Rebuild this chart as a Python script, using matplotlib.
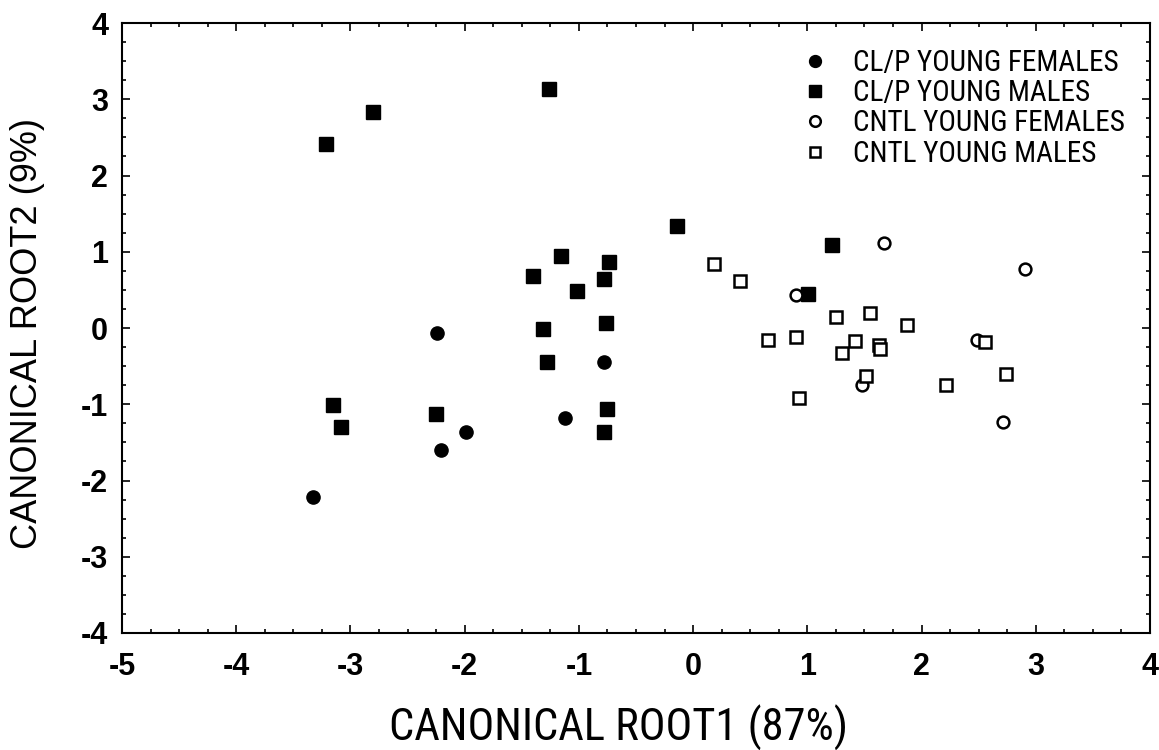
import matplotlib
matplotlib.use("Agg")
import matplotlib.pyplot as plt
from matplotlib.ticker import MultipleLocator

plt.rcParams['axes.unicode_minus'] = False

# CL/P young females (filled circles)
clp_f_x = [-3.33, -2.24, -2.21, -1.99, -1.12, -0.78]
clp_f_y = [-2.21, -0.06, -1.60, -1.37, -1.18, -0.44]

# CL/P young males (filled squares)
clp_m_x = [-3.21, -2.80, -1.26, -0.14, -1.16, -0.74, -1.40, -0.78, -1.02,
           1.22, 1.01, -1.31, -0.76, -1.28, -0.75, -0.78, -2.25, -3.15, -3.08]
clp_m_y = [2.41, 2.83, 3.14, 1.34, 0.94, 0.87, 0.68, 0.64, 0.49,
           1.09, 0.45, -0.01, 0.06, -0.45, -1.06, -1.37, -1.13, -1.01, -1.30]

# CNTL young females (open circles)
cntl_f_x = [1.67, 2.91, 0.90, 2.49, 1.48, 2.71]
cntl_f_y = [1.11, 0.77, 0.43, -0.16, -0.75, -1.23]

# CNTL young males (open squares)
cntl_m_x = [0.18, 0.41, 1.25, 1.55, 1.87, 0.66, 0.90, 1.42, 1.30, 1.63,
            1.64, 2.56, 1.51, 2.21, 2.74, 0.93]
cntl_m_y = [0.84, 0.62, 0.14, 0.20, 0.04, -0.16, -0.12, -0.17, -0.33, -0.22,
            -0.27, -0.19, -0.63, -0.75, -0.60, -0.92]

labels = ["CL/P YOUNG FEMALES", "CL/P YOUNG MALES",
          "CNTL YOUNG FEMALES", "CNTL YOUNG MALES"]
xticks = [-5, -4, -3, -2, -1, 0, 1, 2, 3, 4]
yticks = [-4, -3, -2, -1, 0, 1, 2, 3, 4]

narrow = ["Roboto Condensed", "Archivo Narrow", "PT Sans Narrow",
          "IBM Plex Sans Condensed", "DejaVu Sans"]
arial = ["Arimo", "Liberation Sans", "DejaVu Sans"]

fig = plt.figure(figsize=(11.59, 7.5), dpi=100)
ax = fig.add_axes([0.1053, 0.156, 0.8869, 0.8133])

ax.plot(clp_f_x, clp_f_y, 'o', ms=9.5, color='black', label=labels[0])
ax.plot(clp_m_x, clp_m_y, 's', ms=9.5, color='black', label=labels[1])
ax.plot(cntl_f_x, cntl_f_y, 'o', ms=8.5, mfc='white', mec='black', mew=1.8,
        label=labels[2])
ax.plot(cntl_m_x, cntl_m_y, 's', ms=8.5, mfc='white', mec='black', mew=1.8,
        label=labels[3])

ax.set_xlim(-5, 4)
ax.set_ylim(-4, 4)
ax.set_xticks(xticks)
ax.set_yticks(yticks)
ax.set_xticklabels([str(v) for v in xticks])
ax.set_yticklabels([str(v) for v in yticks])
ax.xaxis.set_minor_locator(MultipleLocator(0.25))
ax.yaxis.set_minor_locator(MultipleLocator(0.25))
ax.tick_params(which='both', direction='in', top=True, right=True, width=1.2)
ax.tick_params(which='major', length=6)
ax.tick_params(which='minor', length=3)
ax.tick_params(axis='x', which='major', pad=13.5)
ax.tick_params(axis='y', which='major', pad=10)
for lab in ax.get_xticklabels() + ax.get_yticklabels():
    lab.set_fontfamily(arial)
    lab.set_fontweight('bold')
    lab.set_fontsize(22)
for sp in ax.spines.values():
    sp.set_linewidth(1.5)

ax.set_xlabel("CANONICAL ROOT1 (87%)", family=narrow, fontsize=32)
ax.xaxis.set_label_coords(0.483, -0.118)
ax.set_ylabel("CANONICAL ROOT2 (9%)", family=arial, fontsize=26)
ax.yaxis.set_label_coords(-0.0749, 0.491)

leg = ax.legend(loc='upper left', bbox_to_anchor=(0.6485, 0.977), frameon=False,
                handlelength=1.0, handletextpad=0.8, labelspacing=0.08,
                borderaxespad=0.0,
                prop={'family': narrow, 'size': 21}, markerscale=0.9)

fig.savefig("out.png", dpi=100)
